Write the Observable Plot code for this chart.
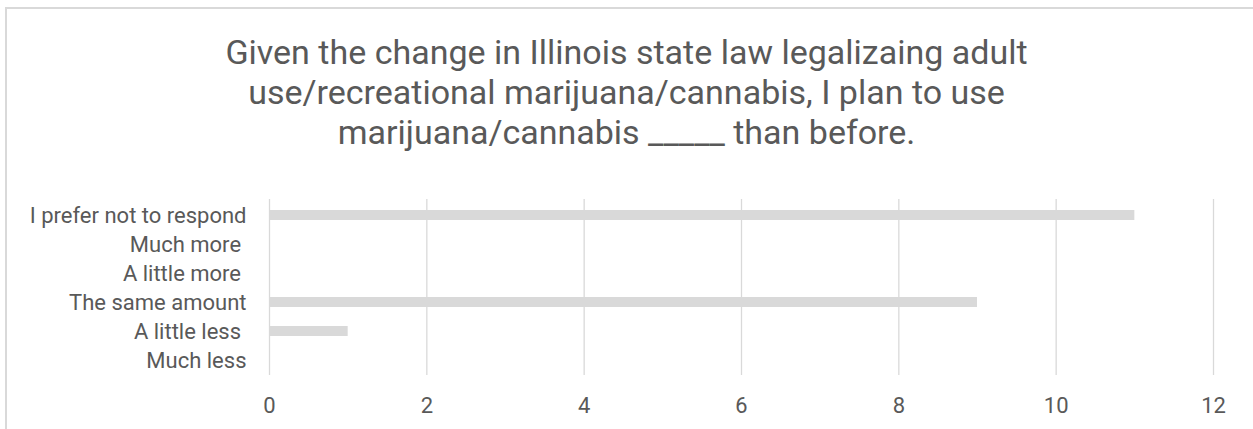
<!DOCTYPE html>
<html><head><meta charset="utf-8">
<script src="https://cdn.jsdelivr.net/npm/d3@7"></script>
<script src="https://cdn.jsdelivr.net/npm/@observablehq/plot@0.6"></script>
<style>
body{margin:0;background:#fff;width:1253px;height:429px;overflow:hidden;position:relative;font-family:Roboto,sans-serif;}
#frame{position:absolute;left:5px;top:7px;width:1300px;height:460px;border:2px solid #d9d9d9;box-sizing:border-box;}
#title{position:absolute;left:6px;width:1241px;top:32px;text-align:center;font-size:34px;line-height:40px;color:#595959;}
#chart{position:absolute;left:0;top:180px;}
</style></head>
<body>
<div id="frame"></div>
<div id="title">Given the change in Illinois state law legalizaing adult<br>use/recreational marijuana/cannabis, I plan to use<br>marijuana/cannabis _____ than before.</div>
<div id="chart"></div>
<script>
const categories = ["I prefer not to respond","Much more ","A little more ","The same amount","A little less ","Much less"];
const counts = [11,0,0,9,1,0];
const xTicks = [0,2,4,6,8,10,12];
const data = categories.map((c,i)=>({category:c,count:counts[i]}));
const chart = Plot.plot({
  width:1253, height:249, marginLeft:269, marginRight:40, marginTop:19, marginBottom:54,
  style:{fontFamily:"Roboto, sans-serif", fontSize:"22px", color:"#595959", background:"transparent", overflow:"visible"},
  x:{domain:[0,12], ticks:xTicks, tickSize:0, tickPadding:22, label:null},
  y:{domain:categories, paddingInner:0.66, paddingOuter:0.33, tickSize:0, tickPadding:23, label:null, tickFormat:d=>d.replace(/ $/,"\u00a0")},
  marks:[
    Plot.gridX(xTicks,{stroke:"#d9d9d9", strokeOpacity:1, strokeWidth:1.3}),
    Plot.barX(data,{x:"count", y:"category", fill:"#d9d9d9"})
  ]
});
document.getElementById("chart").appendChild(chart);
</script>
</body></html>
